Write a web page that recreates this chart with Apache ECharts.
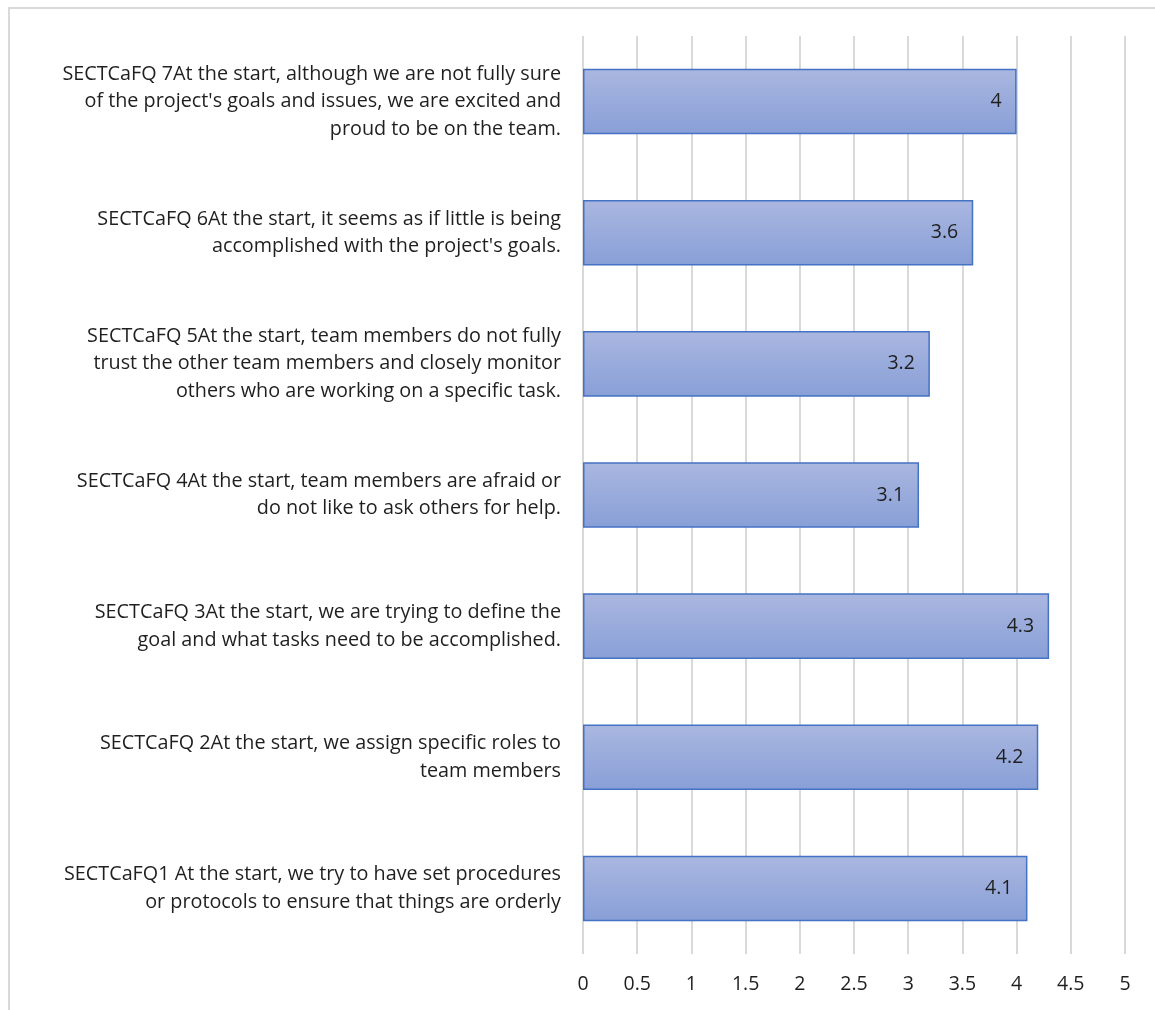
<!DOCTYPE html>
<html>
<head>
<meta charset="utf-8">
<script src="https://cdn.jsdelivr.net/npm/echarts@6/dist/echarts.min.js"></script>
<style>
html,body{margin:0;padding:0;background:#fff;}
#frame{position:absolute;left:8px;top:7px;width:1147px;height:1003px;border-left:2px solid #d9d9d9;border-top:2px solid #d9d9d9;box-sizing:border-box;}
#chart{position:absolute;left:0;top:0;width:1155px;height:1010px;}
</style>
</head>
<body>
<div id="frame"></div>
<div id="chart"></div>
<script>
var categories = [
  "SECTCaFQ1 At the start, we try to have set procedures\nor protocols to ensure that things are orderly",
  "SECTCaFQ 2At the start, we assign specific roles to\nteam members",
  "SECTCaFQ 3At the start, we are trying to define the\ngoal and what tasks need to be accomplished.",
  "SECTCaFQ 4At the start, team members are afraid or\ndo not like to ask others for help.",
  "SECTCaFQ 5At the start, team members do not fully\ntrust the other team members and closely monitor\nothers who are working on a specific task.",
  "SECTCaFQ 6At the start, it seems as if little is being\naccomplished with the project's goals.",
  "SECTCaFQ 7At the start, although we are not fully sure\nof the project's goals and issues, we are excited and\nproud to be on the team."
];
var values = [4.1, 4.2, 4.3, 3.1, 3.2, 3.6, 4];
var tickLabels = ["0","0.5","1","1.5","2","2.5","3","3.5","4","4.5","5"];

var chart = echarts.init(document.getElementById('chart'), null, {renderer:'canvas'});
chart.setOption({
  animation:false,
  grid:{left:583, right:30, top:36, height:918},
  xAxis:{
    type:'value', min:0, max:5, interval:0.5,
    axisLine:{show:false}, axisTick:{show:false},
    splitLine:{lineStyle:{color:'#d9d9d9', width:2}},
    axisLabel:{
      color:'#1f1f1f', fontFamily:'Open Sans', fontSize:19.5, margin:20,
      formatter:function(v){ var i=Math.round(v*2); return tickLabels[i]; }
    }
  },
  yAxis:{
    type:'category', data:categories,
    axisLine:{show:false}, axisTick:{show:false},
    axisLabel:{color:'#1f1f1f', fontFamily:'Open Sans', fontSize:19.8, lineHeight:27.5, margin:22, align:'right'}
  },
  series:[{
    type:'bar', data:values, barCategoryGap:'50%',
    itemStyle:{
      color:new echarts.graphic.LinearGradient(0,0,0,1,[{offset:0,color:'#aab7e0'},{offset:1,color:'#889fd7'}]),
      borderColor:'#4472c4', borderWidth:1.5
    },
    label:{show:true, position:'insideRight', distance:15, color:'#1f1f1f', fontFamily:'Open Sans', fontSize:19.5}
  }]
});
</script>
</body>
</html>
